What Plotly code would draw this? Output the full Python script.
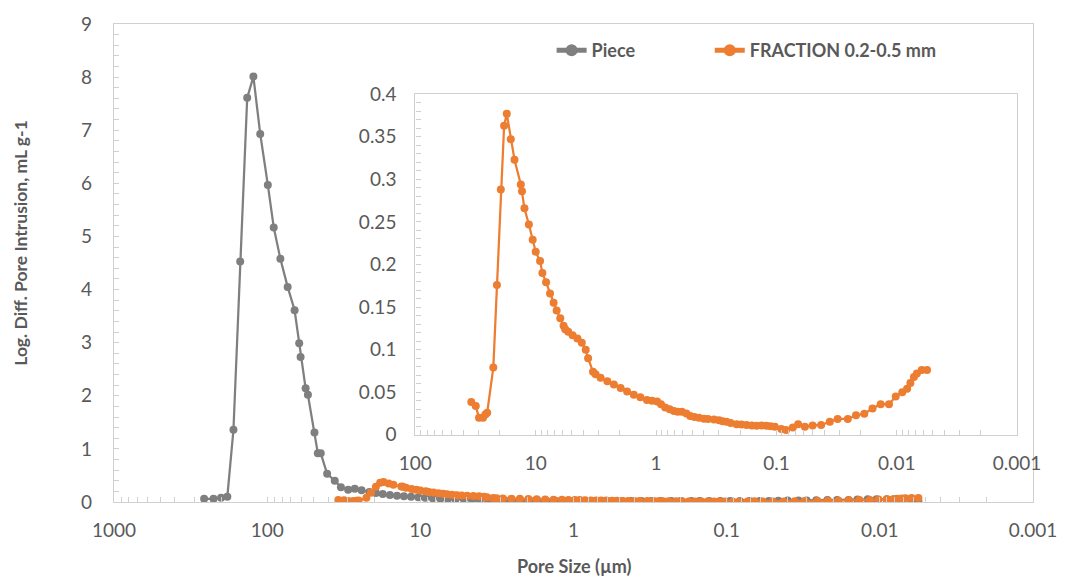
import plotly.graph_objects as go

# ---------------- data ----------------
piece_size = [258, 224, 200, 182, 166, 150, 135, 123, 111, 99, 90.6, 82, 73.5, 66.2, 61.8, 60.5,
              56.1, 54.2, 49.1, 46.7, 44.7, 40.6, 36.2, 33.0, 29.6, 26.8, 24.2, 21.5, 19.5, 17.6,
              15.8, 14.2, 12.8, 11.5, 10.3, 9.3, 8.3, 7.4, 6.6, 5.9, 5.2, 4.6, 4.1, 3.6, 3.2, 2.8,
              2.5, 2.2, 1.9, 1.7, 1.5, 1.3, 1.15, 1.0, 0.87, 0.75, 0.65, 0.56, 0.48, 0.42, 0.36,
              0.31, 0.27, 0.23, 0.2, 0.17, 0.15, 0.13, 0.11, 0.095, 0.082, 0.071, 0.061, 0.053,
              0.046, 0.04, 0.034, 0.03, 0.026, 0.022, 0.019, 0.016, 0.014, 0.012, 0.0105, 0.009,
              0.008, 0.007, 0.0062, 0.0056]
piece_val = [0.06, 0.06, 0.08, 0.10, 1.36, 4.53, 7.61, 8.01, 6.93, 5.97, 5.17, 4.58, 4.05, 3.61, 2.99, 2.73,
             2.14, 2.02, 1.31, 0.92, 0.92, 0.53, 0.40, 0.28, 0.23, 0.25, 0.22, 0.19, 0.17, 0.15,
             0.13, 0.12, 0.11, 0.10, 0.09, 0.08, 0.07, 0.06, 0.06, 0.05, 0.05, 0.04, 0.04, 0.03, 0.03, 0.03,
             0.02, 0.02, 0.02, 0.02, 0.02, 0.02, 0.02, 0.02, 0.02, 0.02, 0.02, 0.02, 0.02, 0.02, 0.02,
             0.02, 0.02, 0.02, 0.02, 0.02, 0.02, 0.02, 0.02, 0.02, 0.02, 0.02, 0.02, 0.02,
             0.025, 0.03, 0.03, 0.03, 0.035, 0.04, 0.04, 0.04, 0.045, 0.05, 0.05, 0.05,
             0.05, 0.05, 0.05, 0.02]

frac_size = [34.3, 31.5, 29.6, 27.4, 26.2, 25.3, 22.5, 21.0, 19.5, 18.3, 17.4, 16.1, 15.0, 13.3, 13.0,
             12.4, 11.4, 10.6, 10.0, 9.2, 8.8, 8.2, 7.6, 7.1, 6.7, 6.25, 5.87, 5.69, 5.37, 4.94, 4.50,
             4.14, 3.84, 3.67, 3.34, 3.18, 2.89, 2.54, 2.24, 1.97, 1.74, 1.53, 1.35, 1.19, 1.08, 0.98,
             0.91, 0.84, 0.77, 0.71, 0.66, 0.61, 0.56, 0.52, 0.48, 0.44, 0.40, 0.37, 0.33, 0.30, 0.28,
             0.26, 0.24, 0.214, 0.195, 0.177, 0.16, 0.146, 0.133, 0.121, 0.112, 0.103, 0.091, 0.083,
             0.073, 0.066, 0.058, 0.050, 0.0425, 0.036, 0.031, 0.0255, 0.0218, 0.0186, 0.0159,
             0.0136, 0.0116, 0.0102, 0.0090, 0.0082, 0.0077, 0.0072, 0.0068, 0.0062, 0.0056]
frac_val = [0.0386, 0.034, 0.020, 0.020, 0.024, 0.026, 0.079, 0.176, 0.288, 0.363, 0.377, 0.347, 0.323, 0.294, 0.286,
            0.266, 0.247, 0.229, 0.215, 0.204, 0.190, 0.179, 0.166, 0.155, 0.146, 0.137, 0.128, 0.124, 0.121, 0.117, 0.113,
            0.108, 0.100, 0.090, 0.074, 0.071, 0.067, 0.063, 0.059, 0.055, 0.051, 0.047, 0.044, 0.041, 0.040, 0.039,
            0.036, 0.032, 0.030, 0.028, 0.027, 0.027, 0.025, 0.022, 0.021, 0.020, 0.019, 0.0186, 0.018, 0.017, 0.016,
            0.0154, 0.014, 0.0124, 0.012, 0.0116, 0.011, 0.0108, 0.011, 0.0108, 0.010, 0.0096, 0.007, 0.0058,
            0.0085, 0.0124, 0.0096, 0.011, 0.0116, 0.0154, 0.0186, 0.0186, 0.023, 0.0247, 0.031,
            0.036, 0.036, 0.045, 0.050, 0.054, 0.061, 0.068, 0.072, 0.076, 0.076]

main_tick_vals = [1000, 100, 10, 1, 0.1, 0.01, 0.001]
main_tick_text = ["1000", "100", "10", "1", "0.1", "0.01", "0.001"]
inset_tick_vals = [100, 10, 1, 0.1, 0.01, 0.001]
inset_tick_text = ["100", "10", "1", "0.1", "0.01", "0.001"]

GRAY = "#7f7f7f"
ORANGE = "#ed7d31"
AXIS = "#d0d0d0"
TXT = "#595959"
FONT = "Lato"

fig = go.Figure()
fig.add_trace(go.Scatter(x=piece_size, y=piece_val, mode="lines+markers", name="Piece",
                         line=dict(color=GRAY, width=2.25), marker=dict(color=GRAY, size=8),
                         xaxis="x", yaxis="y", legend="legend"))
fig.add_trace(go.Scatter(x=frac_size, y=frac_val, mode="lines+markers", name="FRACTION 0.2-0.5 mm",
                         line=dict(color=ORANGE, width=2.25), marker=dict(color=ORANGE, size=8),
                         xaxis="x", yaxis="y", legend="legend2"))
fig.add_trace(go.Scatter(x=frac_size, y=frac_val, mode="lines+markers", name="FRACTION 0.2-0.5 mm",
                         line=dict(color=ORANGE, width=2.25), marker=dict(color=ORANGE, size=8),
                         xaxis="x2", yaxis="y2", showlegend=False))

tickfont = dict(family=FONT, size=19, color=TXT)

def xax(rng, vals, text, domain, anchor):
    return dict(type="log", range=rng, domain=domain, anchor=anchor,
                tickvals=vals, ticktext=text, tickfont=tickfont,
                showgrid=False, zeroline=False, showline=True, linecolor=AXIS, linewidth=1.3,
                mirror=True, ticks="inside", ticklen=5, tickcolor=AXIS, ticklabelstandoff=11,
                minor=dict(ticks="inside", ticklen=5, tickcolor=AXIS, dtick="D1", showgrid=False))

def yax(rng, dtick, mdtick, domain, anchor, standoff):
    return dict(range=rng, domain=domain, anchor=anchor, dtick=dtick, tickfont=tickfont,
                showgrid=False, zeroline=False, showline=True, linecolor=AXIS, linewidth=1.3,
                mirror=True, ticks="inside", ticklen=5, tickcolor=AXIS, ticklabelstandoff=standoff,
                minor=dict(ticks="inside", ticklen=5, tickcolor=AXIS, dtick=mdtick, showgrid=False))

W, H = 1069, 587
L, R, T, B = 114, 1038, 18, 502
def px(xp):
    return (xp - L) / (R - L)
def py(yp):
    return (B - yp) / (B - T)

legfont = dict(family=FONT, size=18, color=TXT, weight="bold")

fig.update_layout(
    width=W, height=H,
    margin=dict(l=L, r=W - R, t=T, b=H - B, pad=0),
    paper_bgcolor="white", plot_bgcolor="white",
    xaxis=xax([3, -3], main_tick_vals, main_tick_text, [0, 1], "y"),
    yaxis=yax([0, 9], 1, 0.2, [0, 1], "x", 17),
    xaxis2=xax([2, -3], inset_tick_vals, inset_tick_text, [px(417), px(1022)], "y2"),
    yaxis2=yax([0, 0.4], 0.05, 0.01, [py(434), py(89)], "x2", 14),
    showlegend=True,
    legend=dict(orientation="h", x=px(554), y=py(45), xanchor="left", yanchor="middle",
                font=legfont, bgcolor="rgba(0,0,0,0)", itemsizing="constant"),
    legend2=dict(orientation="h", x=px(713), y=py(45), xanchor="left", yanchor="middle",
                 font=legfont, bgcolor="rgba(0,0,0,0)", itemsizing="constant"),
    annotations=[
        dict(text="Log. Diff. Pore Intrusion, mL g-1", xref="paper", yref="paper",
             x=px(20), y=py(240), textangle=-90, showarrow=False,
             font=dict(family=FONT, size=17.5, color=TXT, weight="bold"),
             xanchor="center", yanchor="middle"),
        dict(text="Pore Size (µm)", xref="paper", yref="paper",
             x=px(577), y=py(567), showarrow=False,
             font=dict(family=FONT, size=18, color=TXT, weight="bold"),
             xanchor="center", yanchor="middle"),
    ],
)

fig.write_html("out.html")
